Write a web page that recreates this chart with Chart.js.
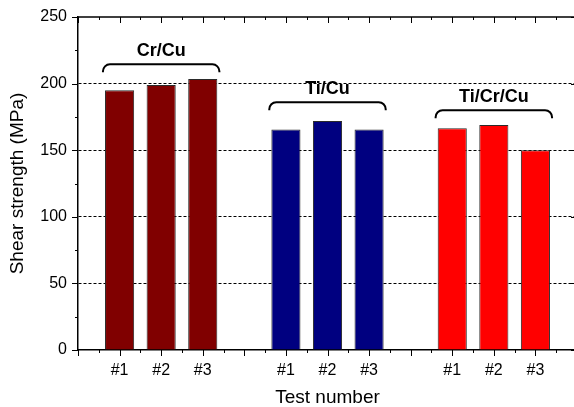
<!DOCTYPE html>
<html>
<head>
<meta charset="utf-8">
<script src="https://cdn.jsdelivr.net/npm/chart.js@4/dist/chart.umd.min.js"></script>
<style>
  html, body { margin: 0; padding: 0; background: #fff; overflow: hidden; }
  canvas { display: block; }
</style>
</head>
<body>
<canvas id="chart" width="580" height="407"></canvas>
<script>
const FONT = '"Liberation Sans", Arial, Helvetica, sans-serif';

// eje x: 13 ranuras, las vacias separan los grupos
const testLabels = ['', '#1', '#2', '#3', '', '#1', '#2', '#3', '', '#1', '#2', '#3', ''];
const groupNames = ['Cr/Cu', 'Ti/Cu', 'Ti/Cr/Cu'];
const groupSlots = [[1, 2, 3], [5, 6, 7], [9, 10, 11]];

// Shear strength (MPa), ensayos #1..#3
const crCu = [195, 199, 203.5];
const tiCu = [165.5, 172, 165.5];
const tiCrCu = [166.5, 169, 150];

const groupColors = ['#800000', '#000080', '#ff0000'];
// altura de las llaves sobre cada grupo (MPa)
const bracketLevels = [214.5, 186, 180];

const Y_MAX = 250;

function fullSeries(values, slots) {
  const out = testLabels.map(() => null);
  slots.forEach((s, i) => { out[s] = values[i]; });
  return out;
}

function crisp(v) {
  return Math.round(v) + 0.5;
}

// marco superior/derecho + marcas de ejes (mayores y menores)
const frameTicks = {
  id: 'frameTicks',
  afterDraw(chart) {
    const { ctx, chartArea: a, scales: { x, y } } = chart;
    ctx.save();
    ctx.strokeStyle = '#000';
    ctx.lineWidth = 1.5;
    ctx.beginPath();
    ctx.moveTo(a.left, a.top);
    ctx.lineTo(a.right, a.top);
    ctx.lineTo(a.right, a.bottom);
    ctx.stroke();

    ctx.lineWidth = 1;
    ctx.beginPath();
    for (let i = 0; i < testLabels.length; i++) {
      const px = crisp(x.getPixelForValue(i));
      ctx.moveTo(px, a.bottom); ctx.lineTo(px, a.bottom + 6);
      ctx.moveTo(px, a.top); ctx.lineTo(px, a.top + 6);
      if (i < testLabels.length - 1) {
        const mid = crisp((x.getPixelForValue(i) + x.getPixelForValue(i + 1)) / 2);
        ctx.moveTo(mid, a.bottom); ctx.lineTo(mid, a.bottom + 3);
        ctx.moveTo(mid, a.top); ctx.lineTo(mid, a.top + 3);
      }
    }
    for (let v = 0; v <= Y_MAX; v += 25) {
      const py = crisp(y.getPixelForValue(v));
      const len = v % 50 === 0 ? 6 : 3;
      ctx.moveTo(a.left - len, py); ctx.lineTo(a.left, py);
      ctx.moveTo(a.right, py); ctx.lineTo(a.right - len, py);
    }
    ctx.stroke();
    ctx.restore();
  },
};

// llaves con el nombre de cada grupo
const brackets = {
  id: 'brackets',
  afterDatasetsDraw(chart) {
    const { ctx, scales: { x, y } } = chart;
    const step = x.getPixelForValue(1) - x.getPixelForValue(0);
    ctx.save();
    ctx.strokeStyle = '#000';
    ctx.fillStyle = '#000';
    ctx.lineWidth = 2;
    ctx.font = `bold 18px ${FONT}`;
    ctx.textAlign = 'center';
    ctx.textBaseline = 'alphabetic';
    groupNames.forEach((name, g) => {
      const mid = x.getPixelForValue(groupSlots[g][1]);
      const half = step * 1.4;
      const left = mid - half;
      const right = mid + half;
      const top = y.getPixelForValue(bracketLevels[g]);
      ctx.beginPath();
      ctx.moveTo(left, top + 8);
      ctx.arcTo(left, top, left + 8, top, 7);
      ctx.lineTo(right - 8, top);
      ctx.arcTo(right, top, right, top + 8, 7);
      ctx.lineTo(right, top + 8);
      ctx.stroke();
      ctx.fillText(name, mid, top - 8);
    });
    ctx.restore();
  },
};

const series = [crCu, tiCu, tiCrCu];
const datasets = series.map((vals, g) => ({
  label: groupNames[g],
  data: fullSeries(vals, groupSlots[g]),
  backgroundColor: groupColors[g],
  borderColor: '#2a2a2a',
  borderWidth: 1,
  grouped: false,
  barPercentage: 0.7,
  categoryPercentage: 1,
}));

new Chart(document.getElementById('chart'), {
  type: 'bar',
  data: { labels: testLabels, datasets },
  options: {
    responsive: false,
    animation: false,
    layout: { padding: { top: 17, right: 0, left: 0, bottom: 0 } },
    plugins: {
      legend: { display: false },
      tooltip: { enabled: false },
    },
    scales: {
      x: {
        type: 'category',
        offset: false,
        grid: { display: false, offset: false },
        border: { display: true, color: '#000', width: 1.5 },
        ticks: {
          autoSkip: false,
          maxRotation: 0,
          padding: 3,
          color: '#000',
          font: { family: FONT, size: 16 },
        },
        title: {
          display: true,
          text: 'Test number',
          color: '#000',
          font: { family: FONT, size: 19 },
          padding: { top: 0, bottom: -2 },
        },
        afterFit(scale) { scale.height = 57; },
      },
      y: {
        min: 0,
        max: Y_MAX,
        ticks: {
          stepSize: 50,
          padding: 11,
          color: '#000',
          font: { family: FONT, size: 16 },
        },
        grid: {
          drawTicks: false,
          lineWidth: 1,
          color: (c) => (c.tick && c.tick.value > 0 && c.tick.value < Y_MAX ? '#000' : 'rgba(0,0,0,0)'),
        },
        border: { display: true, color: '#000', width: 1.5, dash: [3, 2] },
        title: {
          display: true,
          text: 'Shear strength (MPa)',
          color: '#000',
          font: { family: FONT, size: 19 },
          padding: { top: 6, bottom: 0 },
        },
        afterFit(scale) {
          scale.width = 78;
          scale.paddingTop = 0;
          scale.paddingBottom = 0;
        },
      },
    },
  },
  plugins: [frameTicks, brackets],
});
</script>
</body>
</html>
